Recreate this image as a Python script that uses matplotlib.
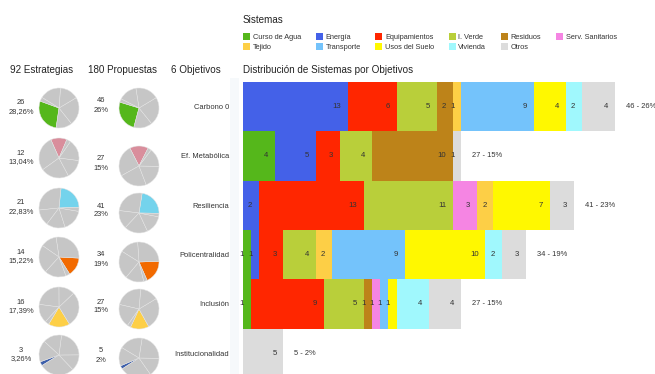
import matplotlib
matplotlib.use("Agg")
import matplotlib.pyplot as plt
from matplotlib.patches import Patch, Rectangle
import numpy as np

plt.rcParams['font.family'] = ['Liberation Sans', 'DejaVu Sans']

# ---------------- data ----------------
objectives = ['Carbono 0', 'Ef. Metabólica', 'Resiliencia', 'Policentralidad', 'Inclusión', 'Institucionalidad']
estrategias = [26, 12, 21, 14, 16, 3]
estr_pct = ['28,26%', '13,04%', '22,83%', '15,22%', '17,39%', '3,26%']
propuestas = [46, 27, 41, 34, 27, 5]
prop_pct = ['26%', '15%', '23%', '19%', '15%', '2%']
total_labels = ['46 - 26%', '27 - 15%', '41 - 23%', '34 - 19%', '27 - 15%', '5 - 2%']

sistemas = ['Curso de Agua', 'Energía', 'Equipamientos', 'I. Verde', 'Residuos',
            'Serv. Sanitarios', 'Tejido', 'Transporte', 'Usos del Suelo', 'Vivienda', 'Otros']
curso_de_agua = [0, 4, 0, 1, 1, 0]
energia = [13, 5, 2, 1, 0, 0]
equipamientos = [6, 3, 13, 3, 9, 0]
i_verde = [5, 4, 11, 4, 5, 0]
residuos = [2, 10, 0, 0, 1, 0]
serv_sanitarios = [0, 0, 3, 0, 1, 0]
tejido = [1, 0, 2, 2, 0, 0]
transporte = [9, 0, 0, 9, 1, 0]
usos_del_suelo = [4, 0, 7, 10, 1, 0]
vivienda = [2, 0, 0, 2, 4, 0]
otros = [4, 1, 3, 3, 4, 5]
series = [curso_de_agua, energia, equipamientos, i_verde, residuos, serv_sanitarios,
          tejido, transporte, usos_del_suelo, vivienda, otros]

# ---------------- styles ----------------
sys_colors = ['#55b71b', '#4461e8', '#ff2600', '#b9cf3a', '#bd8319', '#f585e3',
              '#fdcf46', '#74c3fb', '#fff800', '#a0f8fd', '#dcdcdc']
obj_colors = ['#55b71b', '#d98e9c', '#74d3ec', '#f26a00', '#fdcf47', '#3d5fab']
pie_gray = '#c6c6c6'
txt = '#333333'

W, H = 655, 374
fig = plt.figure(figsize=(W / 100, H / 100), dpi=100)

def fx(px):
    return px / W

def fy(py):
    return 1 - py / H

# faint strip
bg = fig.add_axes([0, 0, 1, 1])
bg.set_xlim(0, W); bg.set_ylim(H, 0); bg.axis('off')
bg.add_patch(Rectangle((230, 78), 9, 300, color='#f6f9fb', lw=0))

# ---------------- bar chart ----------------
px_unit = 8.08
row_px = 49.3
ax = fig.add_axes([fx(243), 0, fx(412), (H - 82) / H])
ax.set_xlim(0, 412 / px_unit)
ax.set_ylim(-0.5 + (H - 82) / row_px, -0.5)
y = np.arange(len(objectives))
left = np.zeros(len(objectives))
for name, vals, col in zip(sistemas, series, sys_colors):
    vals = np.array(vals, dtype=float)
    ax.barh(y, vals, left=left, height=1.0, color=col, linewidth=0)
    for i, v in enumerate(vals):
        if v > 0:
            ax.text(left[i] + v - 0.85, y[i], f'{int(v)}', ha='right', va='center',
                    fontsize=5.6, color=txt)
    left += vals
for i, lab in enumerate(total_labels):
    ax.text(left[i] + 1.35, y[i], lab, ha='left', va='center', fontsize=5.4, color=txt)
ax.set_yticks(y)
ax.set_yticklabels(objectives, fontsize=5.4, color=txt)
ax.tick_params(axis='y', length=0, pad=10)
ax.set_xticks([])
for s in ax.spines.values():
    s.set_visible(False)

# ---------------- pies ----------------
r = 20
col1_cy = [108, 158, 208, 257, 307, 355]
col2_cy = [108, 166, 213, 262, 309, 358]
start1 = [160, 67, 2, -58, -121, 200]
start2 = [163, 63, -1, -66, -115, 203]

def draw_pie(cx, cy, values, idx, start):
    pax = fig.add_axes([fx(cx - r), fy(cy + r), 2 * r / W, 2 * r / H])
    vals = [values[idx]] + [v for j, v in enumerate(values) if j != idx]
    cols = [obj_colors[idx]] + [pie_gray] * (len(values) - 1)
    pax.pie(vals, colors=cols, startangle=start, counterclock=True,
            wedgeprops=dict(edgecolor='#e4e4e4', linewidth=0.35))
    pax.set_xlim(-1, 1); pax.set_ylim(-1, 1)
    pax.axis('off')

for i in range(len(objectives)):
    draw_pie(59, col1_cy[i], estrategias, i, start1[i])
    draw_pie(139, col2_cy[i], propuestas, i, start2[i])
    fig.text(fx(21), fy(col1_cy[i] - 5), str(estrategias[i]), ha='center', va='center',
             fontsize=5.4, color=txt)
    fig.text(fx(21), fy(col1_cy[i] + 3.5), estr_pct[i], ha='center', va='center',
             fontsize=5.4, color=txt)
    fig.text(fx(101), fy(col2_cy[i] - 7), str(propuestas[i]), ha='center', va='center',
             fontsize=5.4, color=txt)
    fig.text(fx(101), fy(col2_cy[i] + 2), prop_pct[i], ha='center', va='center',
             fontsize=5.4, color=txt)

# ---------------- headers ----------------
fig.text(fx(10), fy(70), '92 Estrategias', ha='left', va='center', fontsize=7.1, color='#222222')
fig.text(fx(88), fy(70), '180 Propuestas', ha='left', va='center', fontsize=7.1, color='#222222')
fig.text(fx(171), fy(70), '6 Objetivos', ha='left', va='center', fontsize=7.1, color='#222222')
fig.text(fx(243), fy(70), 'Distribución de Sistemas por Objetivos', ha='left', va='center',
         fontsize=7.1, color='#222222')
fig.text(fx(243), fy(20), 'Sistemas', ha='left', va='center', fontsize=7.1, color='#222222')

# ---------------- legend ----------------
order = [0, 6, 1, 7, 2, 8, 3, 9, 4, 10, 5]
handles = [Patch(facecolor=sys_colors[k], edgecolor='none', label=sistemas[k]) for k in order]
leg = fig.legend(handles=handles, ncol=6, loc='upper left', bbox_to_anchor=(fx(243), fy(33)),
                 frameon=False, fontsize=5.3, handlelength=1.0, handleheight=1.0,
                 handletextpad=0.35, columnspacing=1.95, labelspacing=0.3, borderpad=0,
                 borderaxespad=0)
for t in leg.get_texts():
    t.set_color(txt)

fig.savefig('out.png', dpi=100)
